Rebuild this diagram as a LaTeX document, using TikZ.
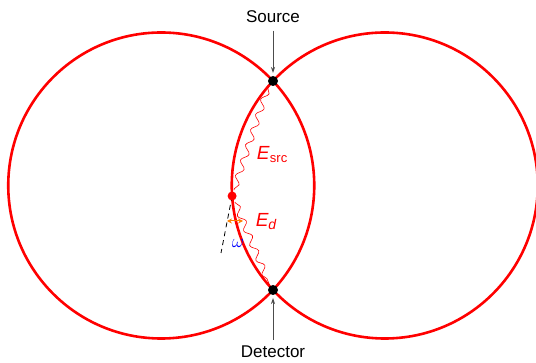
\documentclass[tikz,border=0pt]{standalone}
\usepackage{fontspec}
\setmainfont{Liberation Sans}
\usetikzlibrary{decorations.pathmorphing,arrows.meta}
\begin{document}
\begin{tikzpicture}[x=1pt,y=-1pt,
  circ/.style={draw=red, line width=2.6pt},
  wave/.style={draw=red, line width=0.6pt, decorate, decoration={snake, amplitude=3.2pt, segment length=16pt, pre length=1pt, post length=1pt}},
  lbl/.style={font=\fontsize{17}{20}\selectfont, text=black},
  elbl/.style={font=\fontsize{19}{22}\selectfont, text=red},
  pointer/.style={draw=black!70, line width=0.8pt, -{Stealth[length=6pt,width=4pt]}}]
\useasboundingbox (0,0) rectangle (536,363);
\draw[circ] (161.25,185.5) circle (153);
\draw[circ] (384.75,185.5) circle (153);
\coordinate (src) at (273,81);
\coordinate (det) at (273,290);
\coordinate (pt) at (232.1,196);
\coordinate (w1) at (268,87);
\coordinate (w2) at (234,190);
\coordinate (w3) at (235,202);
\coordinate (w4) at (270,286);
\draw[wave] (w1) -- (w2);
\draw[wave] (w3) -- (w4);
\coordinate (dashend) at (221,253);
\draw[dashed, line width=0.8pt, dash pattern=on 5pt off 4pt] (pt) -- (dashend);
\coordinate (oa) at (227,221);
\coordinate (ob) at (243,221);
\draw[orange, line width=1pt, {Stealth[length=5pt,width=5pt]}-{Stealth[length=5pt,width=5pt]}] (oa) -- (ob);
\fill[red] (pt) circle (4.5);
\fill[black] (src) circle (5);
\fill[black] (det) circle (5);
\node[lbl] (srclbl) at (273,17) {Source};
\node[lbl] (detlbl) at (273,352) {Detector};
\draw[pointer] (srclbl.south) ++(0,4) coordinate (sa) (sa) -- (273,73);
\draw[pointer] (detlbl.north) ++(0,-3) coordinate (da) (da) -- (273,298);
\node[elbl] (esrc) at (272,155) {\itshape E\kern0.5pt\raisebox{-3pt}{\fontsize{13}{14}\selectfont\upshape src}};
\node[elbl] (ed) at (266,222) {\itshape E\raisebox{-3pt}{\fontsize{14}{14}\selectfont d}};
\node[text=blue, font=\fontsize{15}{16}\selectfont] (om) at (238,243) {\scalebox{1.3}{$\omega$}};
\end{tikzpicture}
\end{document}
